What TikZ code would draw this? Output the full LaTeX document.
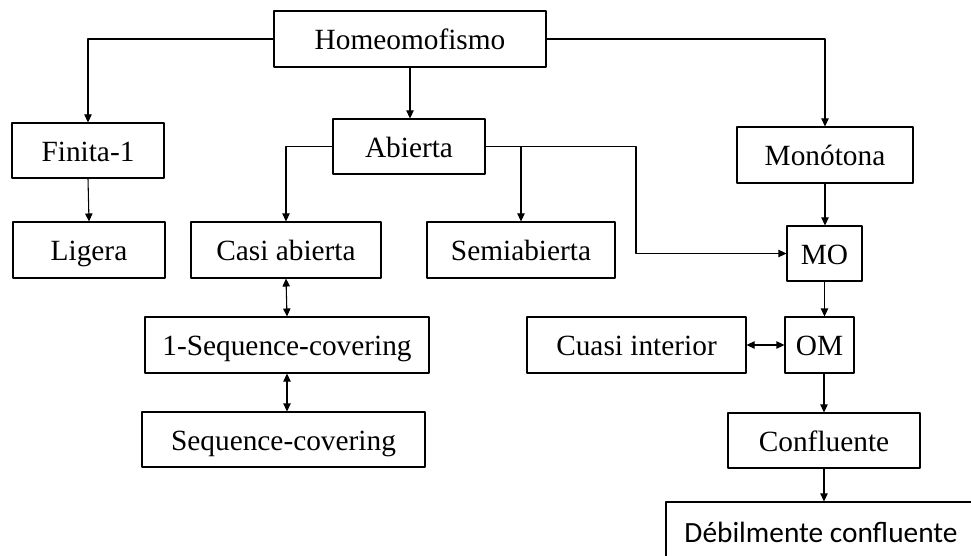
\documentclass[tikz,border=0pt]{standalone}
\usepackage{fontspec}
\setmainfont{Liberation Serif}
\newfontfamily\calibri{Carlito}
\usetikzlibrary{arrows.meta}

\tikzset{
  caja/.style={draw, line width=0.8pt, inner sep=0pt, text height=18pt, text depth=2.2pt, font=\fontsize{22}{26}\selectfont},
  flecha/.style={line width=0.8pt, -{Triangle[length=6pt,width=5.5pt]}},
  doble/.style={line width=0.8pt, {Triangle[length=6pt,width=5.5pt]}-{Triangle[length=6pt,width=5.5pt]}}
}

\begin{document}
\begin{tikzpicture}[line cap=round,line join=round,x=0.75pt,y=-0.75pt]
          \useasboundingbox (0,0) rectangle (971,556);

          \node[caja, minimum width=204pt, minimum height=42pt] (homeo) at (410,39) {Homeomofismo};
          \node[caja, minimum width=114pt, minimum height=41.25pt] (finita) at (88,150.5) {Finita-1};
          \node[caja, minimum width=114pt, minimum height=41.25pt] (abierta) at (409,146.5) {Abierta};
          \node[caja, minimum width=132pt, minimum height=42pt] (monotona) at (825,155) {Monótona};
          \node[caja, minimum width=114pt, minimum height=42pt] (ligera) at (89,250) {Ligera};
          \node[caja, minimum width=142.5pt, minimum height=42pt] (casi) at (286,250) {Casi abierta};
          \node[caja, minimum width=141pt, minimum height=42pt] (semi) at (521,250) {Semiabierta};
          \node[caja, minimum width=56.25pt, minimum height=41.25pt] (mo) at (824.5,253.5) {MO};
          \node[caja, minimum width=213pt, minimum height=42pt] (unoseq) at (287,345) {1-Sequence-covering};
          \node[caja, minimum width=212.25pt, minimum height=41.25pt] (seq) at (283.5,439.5) {Sequence-covering};
          \node[caja, minimum width=164.25pt, minimum height=42pt] (cuasi) at (636.5,345) {Cuasi interior};
          \node[caja, minimum width=51.75pt, minimum height=42pt] (om) at (819.5,345) {OM};
          \node[caja, minimum width=144pt, minimum height=41.25pt] (confl) at (824,440.5) {Confluente};
          \node[caja, minimum width=232.5pt, minimum height=45pt] (debil) at (821,532) {\calibri Débilmente confluente};

          \coordinate (codo) at (636,253.5);

          \draw[flecha] (homeo.west) -| (finita.north);
          \draw[flecha] (homeo.south) -- (homeo.south |- abierta.north);
          \draw[flecha] (homeo.east) -| (monotona.north);
          \draw[flecha] (finita.south) -- (ligera.north);
          \draw[flecha] (abierta.west) -| (casi.north);
          \draw[flecha] (abierta.east) -| (codo) -- (mo.west);
          \draw[flecha] (semi.north |- abierta.east) -- (semi.north);
          \draw[flecha] (monotona.south) -- (monotona.south |- mo.north);
          \draw[flecha] (mo.south) -- (mo.south |- om.north);
          \draw[flecha] (confl.north |- om.south) -- (confl.north);
          \draw[flecha] (confl.south) -- (confl.south |- debil.north);

          \draw[doble] (casi.south) -- (unoseq.north);
          \draw[doble] (unoseq.south) -- (unoseq.south |- seq.north);
          \draw[doble] (cuasi.east) -- (om.west);

        \end{tikzpicture}
\end{document}
